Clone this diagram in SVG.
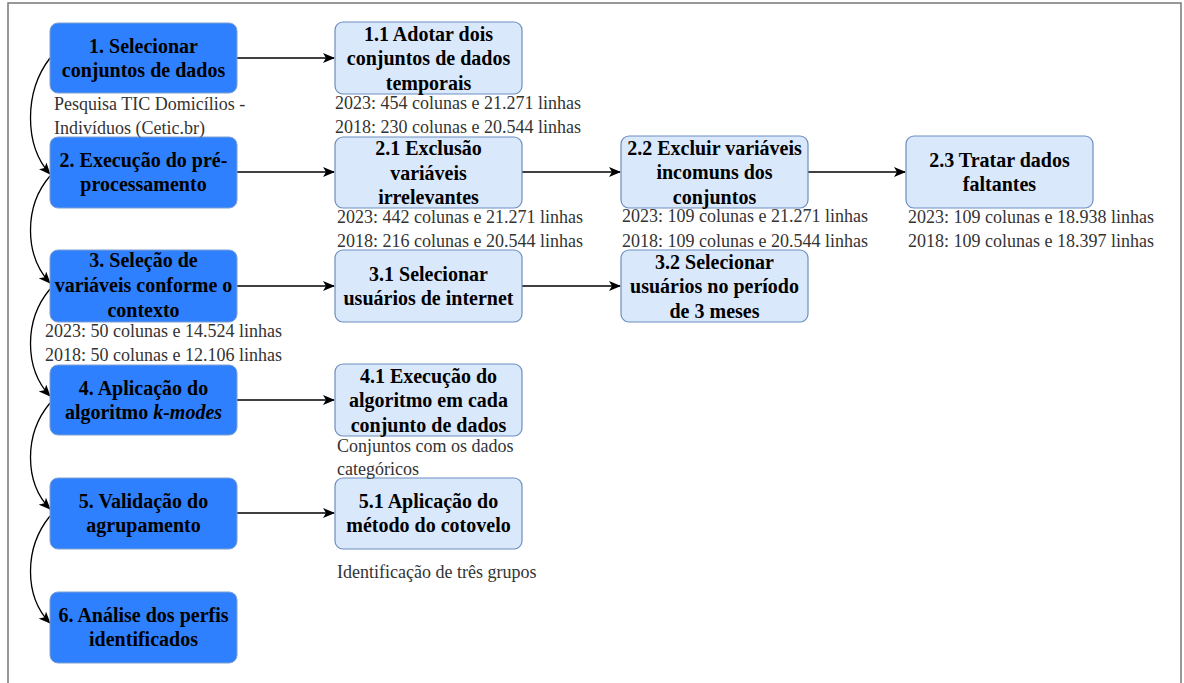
<svg xmlns="http://www.w3.org/2000/svg" width="1184" height="683" viewBox="0 0 1184 683">
<defs>
<style>
.main{fill:#2e80ff;stroke:#7f9fd0;stroke-width:1}
.sub{fill:#dae8fc;stroke:#6c8ebf;stroke-width:1.2}
.t{font-family:"Liberation Serif","Times New Roman",serif;font-weight:bold;font-size:20px;fill:#000;text-anchor:middle}
.a{font-family:"Liberation Serif","Times New Roman",serif;font-size:18px;fill:#333}
.c{fill:none;stroke:#000;stroke-width:1.3}
</style>
<marker id="ah" viewBox="0 0 12 10" refX="11" refY="5" markerWidth="12" markerHeight="10" markerUnits="userSpaceOnUse" orient="auto">
<path d="M0,0 L12,5 L0,10 L3,5 Z" fill="#000"/>
</marker>
</defs>
<rect x="0" y="0" width="1184" height="683" fill="#fff"/>
<path d="M8,700 L8,3 L1181,3 L1181,700" fill="none" stroke="#777" stroke-width="1.5"/>

<g id="connectors">
<path class="c" d="M237,58 L334,58" marker-end="url(#ah)"/>
<path class="c" d="M237,172 L334,172" marker-end="url(#ah)"/>
<path class="c" d="M522,172 L620,172" marker-end="url(#ah)"/>
<path class="c" d="M808,172 L905,172" marker-end="url(#ah)"/>
<path class="c" d="M237,286 L334,286" marker-end="url(#ah)"/>
<path class="c" d="M522,286 L620,286" marker-end="url(#ah)"/>
<path class="c" d="M237,400 L334,400" marker-end="url(#ah)"/>
<path class="c" d="M237,513 L334,513" marker-end="url(#ah)"/>
<path class="c" d="M50,58 C24,92 24,145 50,174" marker-end="url(#ah)"/>
<path class="c" d="M50,176 C24,206 24,255 50,283" marker-end="url(#ah)"/>
<path class="c" d="M50,289 C24,320 24,368 50,396" marker-end="url(#ah)"/>
<path class="c" d="M50,403 C24,434 24,482 50,509" marker-end="url(#ah)"/>
<path class="c" d="M50,516 C24,548 24,596 50,623" marker-end="url(#ah)"/>
</g>

<g id="n1"><rect class="main" x="50" y="23" width="187" height="70" rx="8"/>
<text class="t" x="143.5" y="52.5">1. Selecionar</text><text class="t" x="143.5" y="77">conjuntos de dados</text></g>
<g id="n2"><rect class="main" x="50" y="137" width="187" height="71" rx="8"/>
<text class="t" x="143.5" y="166.5">2. Execução do pré-</text><text class="t" x="143.5" y="191">processamento</text></g>
<g id="n3"><rect class="main" x="50" y="250" width="187" height="72" rx="8"/>
<text class="t" x="143.5" y="267">3. Seleção de</text><text class="t" x="143.5" y="292">variáveis conforme o</text><text class="t" x="143.5" y="316.5">contexto</text></g>
<g id="n4"><rect class="main" x="50" y="365" width="187" height="70" rx="8"/>
<text class="t" x="143.5" y="394.5">4. Aplicação do</text><text class="t" x="143.5" y="419">algoritmo <tspan font-style="italic">k-modes</tspan></text></g>
<g id="n5"><rect class="main" x="50" y="478" width="187" height="71" rx="8"/>
<text class="t" x="143.5" y="507.5">5. Validação do</text><text class="t" x="143.5" y="532">agrupamento</text></g>
<g id="n6"><rect class="main" x="50" y="592" width="187" height="71" rx="8"/>
<text class="t" x="143.5" y="621.5">6. Análise dos perfis</text><text class="t" x="143.5" y="646">identificados</text></g>

<g id="n11"><rect class="sub" x="335" y="22" width="187" height="72" rx="8"/>
<text class="t" x="428.5" y="40.5">1.1 Adotar dois</text><text class="t" x="428.5" y="65">conjuntos de dados</text><text class="t" x="428.5" y="89.5">temporais</text></g>
<g id="n21"><rect class="sub" x="335" y="137" width="187" height="71" rx="8"/>
<text class="t" x="428.5" y="155">2.1 Exclusão</text><text class="t" x="428.5" y="179.5">variáveis</text><text class="t" x="428.5" y="204">irrelevantes</text></g>
<g id="n22"><rect class="sub" x="621" y="136" width="187" height="72" rx="8"/>
<text class="t" x="714.5" y="154.5">2.2 Excluir variáveis</text><text class="t" x="714.5" y="179">incomuns dos</text><text class="t" x="714.5" y="203.5">conjuntos</text></g>
<g id="n23"><rect class="sub" x="906" y="136" width="187" height="72" rx="8"/>
<text class="t" x="999.5" y="166.5">2.3 Tratar dados</text><text class="t" x="999.5" y="191">faltantes</text></g>
<g id="n31"><rect class="sub" x="335" y="250" width="187" height="72" rx="8"/>
<text class="t" x="428.5" y="280.5">3.1 Selecionar</text><text class="t" x="428.5" y="305">usuários de internet</text></g>
<g id="n32"><rect class="sub" x="621" y="250" width="187" height="72" rx="8"/>
<text class="t" x="714.5" y="268.5">3.2 Selecionar</text><text class="t" x="714.5" y="293">usuários no período</text><text class="t" x="714.5" y="317.5">de 3 meses</text></g>
<g id="n41"><rect class="sub" x="335" y="364" width="187" height="72" rx="8"/>
<text class="t" x="428.5" y="382.5">4.1 Execução do</text><text class="t" x="428.5" y="407">algoritmo em cada</text><text class="t" x="428.5" y="431.5">conjunto de dados</text></g>
<g id="n51"><rect class="sub" x="335" y="478" width="187" height="71" rx="8"/>
<text class="t" x="428.5" y="507.5">5.1 Aplicação do</text><text class="t" x="428.5" y="532">método do cotovelo</text></g>

<g id="annotations">
<text class="a" x="54" y="110">Pesquisa TIC Domicílios -</text>
<text class="a" x="54" y="134">Indivíduos (Cetic.br)</text>
<text class="a" x="335" y="109">2023: 454 colunas e 21.271 linhas</text>
<text class="a" x="335" y="133">2018: 230 colunas e 20.544 linhas</text>
<text class="a" x="337" y="223">2023: 442 colunas e 21.271 linhas</text>
<text class="a" x="337" y="247">2018: 216 colunas e 20.544 linhas</text>
<text class="a" x="622" y="222">2023: 109 colunas e 21.271 linhas</text>
<text class="a" x="622" y="247">2018: 109 colunas e 20.544 linhas</text>
<text class="a" x="908" y="223">2023: 109 colunas e 18.938 linhas</text>
<text class="a" x="908" y="247">2018: 109 colunas e 18.397 linhas</text>
<text class="a" x="45" y="337">2023: 50 colunas e 14.524 linhas</text>
<text class="a" x="45" y="361">2018: 50 colunas e 12.106 linhas</text>
<text class="a" x="337" y="452">Conjuntos com os dados</text>
<text class="a" x="337" y="475">categóricos</text>
<text class="a" x="337" y="578">Identificação de três grupos</text>
</g>
</svg>
